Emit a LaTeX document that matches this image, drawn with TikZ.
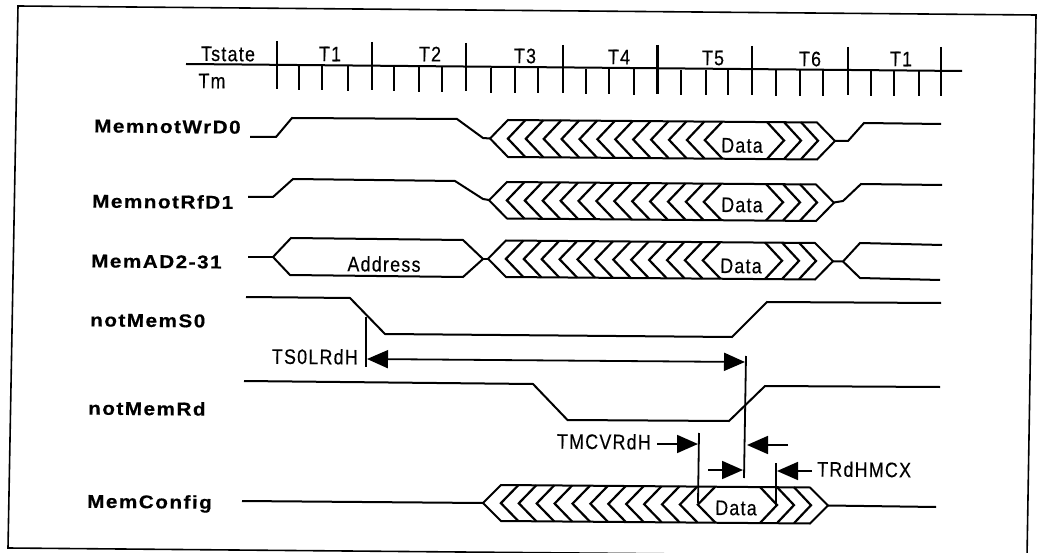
\documentclass[tikz,border=0pt]{standalone}
\usepackage{fontspec}
\usetikzlibrary{arrows.meta}
\newfontfamily\sigfont[FakeStretch=1.12,LetterSpace=8,FakeBold=0.4]{Liberation Sans Bold}
\newfontfamily\timefont[FakeStretch=0.85,LetterSpace=6,FakeBold=0.3]{Liberation Sans}
\tikzset{
  frameline/.style={line width=1.6pt,line join=miter},
  wave/.style={line width=2pt,line join=miter},
  chev/.style={line width=2.2pt,line join=miter},
  tickline/.style={line width=2.1pt},
  meas/.style={line width=1.8pt},
  arrowed/.style={line width=1.8pt,-{Triangle[length=21pt,width=18pt]}},
  sig/.style={inner sep=0pt,anchor=west,rotate=-0.5,font=\sigfont\fontsize{18.5}{18.5}\selectfont},
  timelab/.style={inner sep=0pt,rotate=-0.5,font=\timefont\fontsize{21}{21}\selectfont},
}
% bus row: left tip x, top y, bottom y
\newcommand{\busrow}[3]{%
  \pgfmathsetmacro{\yT}{#2}\pgfmathsetmacro{\yB}{#3}%
  \pgfmathsetmacro{\yM}{(#2+#3)/2}%
  \draw[wave] (#1,\yM) -- (#1+18,\yT) -- (#1+327,\yT+2.5) -- (#1+345,\yM+2.5) -- (#1+327,\yB+2.5) -- (#1+18,\yB) -- cycle;
  \foreach \i in {1,...,12}{%
    \pgfmathsetmacro{\tx}{#1+17.9*\i}%
    \pgfmathsetmacro{\dy}{0.0075*17.9*\i}%
    \draw[chev] (\tx+17.5,\yT+\dy) -- (\tx,\yM+\dy) -- (\tx+17.5,\yB+\dy);
  }%
  \foreach \j in {0,1,2}{%
    \pgfmathsetmacro{\tx}{#1+294+17*\j}%
    \pgfmathsetmacro{\dy}{2+0.1*\j}%
    \draw[chev] (\tx-17,\yT+\dy) -- (\tx,\yM+\dy) -- (\tx-17,\yB+\dy);
  }%
}
\begin{document}
\begin{tikzpicture}[x=1pt,y=-1pt]
\useasboundingbox (0,0) rectangle (1038,553);
\fill[white] (0,0) rectangle (1038,553);
% frame
\begin{scope}
\clip (0,0) rectangle (1038,553);
\draw[frameline] (18,6) -- (1036,15) -- (1027,557) -- (8,548) -- cycle;
\end{scope}
% header
\draw[wave] (186,64) -- (962,71);
\foreach \x/\a/\b in {277/41/89,372/42/90,466/43/91,563/45/93,657.5/45/94,752/46/95,848/47/95,941/47/96}
  \draw[tickline] (\x,\a) -- (\x,\b);
\foreach \x/\a/\b in {299/65/90,322/65/90,348/65/91,394/66/91,419/66/92,442/66/92,491/68/93,515/68/93,538/68/93,586/69/94,609/69/94,634/69/95,681/70/95,706/70/95,728/70/95,776/70/96,800/70/96,823/70/96,871/71/96,894/71/96,919/71/96}
  \draw[tickline] (\x,\a) -- (\x,\b);
\node[timelab] (tstate) at (228,54) {Tstate};
\node[timelab] (tm) at (212,81) {Tm};
\node[timelab] (ta) at (330,54) {T1};
\node[timelab] (tb) at (430,54) {T2};
\node[timelab] (tc) at (525,56) {T3};
\node[timelab] (td) at (619,57) {T4};
\node[timelab] (te) at (713,58) {T5};
\node[timelab] (tf) at (810,59) {T6};
\node[timelab] (tg) at (901,59) {T1};
% signal names
\node[sig] (s1) at (94,126) {MemnotWrD0};
\node[sig] (s2) at (92,201) {MemnotRfD1};
\node[sig] (s3) at (91,261) {MemAD2-31};
\node[sig] (s4) at (90,320) {notMemS0};
\node[sig] (s5) at (88,408) {notMemRd};
\node[sig] (s6) at (87,503) {MemConfig};
% MemnotWrD0
\draw[wave] (250,137) -- (276,137) -- (292,118) -- (457,119) -- (483,138) -- (490,138.5);
\busrow{490}{120}{157}
\draw[wave] (835,141) -- (848,141) -- (864,123) -- (941,124);
\node[timelab] (d1) at (742,145.5) {Data};
% MemnotRfD1
\draw[wave] (248,197) -- (273,197) -- (293,179) -- (455,181) -- (483,199) -- (489,200);
\busrow{489}{182}{218.5}
\draw[wave] (834,202.5) -- (843,201) -- (861,184) -- (942,185);
\node[timelab] (d2) at (742,205) {Data};
% MemAD2-31
\draw[wave] (248,257) -- (273,257);
\draw[wave] (273,257) -- (291,238) -- (463,240) -- (483,259) -- (463,277) -- (290,275) -- cycle;
\draw[wave] (483,259) -- (488,259);
\busrow{488}{240.5}{277}
\draw[wave] (833,261.5) -- (843,261.5) -- (860,243) -- (942,245);
\draw[wave] (843,261.5) -- (860,278) -- (940,280);
\node[timelab] (addr) at (384,264) {Address};
\node[timelab] (d3) at (741,266) {Data};
% notMemS0
\draw[wave] (246,297) -- (350,298) -- (385,334) -- (732,337) -- (767,302) -- (941,303);
% notMemRd
\draw[wave] (244,381) -- (533,384) -- (567.5,420) -- (729,421) -- (765,386) -- (940,387);
% MemConfig
\draw[wave] (242,501) -- (483,503);
\busrow{483}{485}{521}
\draw[wave] (828,505.5) -- (936,507);
\node[timelab] (d6) at (736,508) {Data};
% timing measures
\coordinate (vAa) at (366,317); \coordinate (vAb) at (366,367);
\coordinate (vBa) at (746,356); \coordinate (vBb) at (744,478);
\coordinate (vCa) at (699,433); \coordinate (vCb) at (698,503);
\coordinate (vDa) at (776,463); \coordinate (vDb) at (776,507);
\draw[meas] (vAa) -- (vAb);
\draw[meas] (vBa) -- (vBb);
\draw[meas] (vCa) -- (vCb);
\draw[meas] (vDa) -- (vDb);
\coordinate (aAl) at (367,359); \coordinate (aAr) at (745,362);
\draw[meas,{Triangle[length=21pt,width=18pt]}-{Triangle[length=21pt,width=18pt]}] (aAl) -- (aAr);
\node[timelab,anchor=east] (l1) at (358,357) {TS0LRdH};
\node[timelab,anchor=east] (l2) at (651,442) {TMCVRdH};
\node[timelab,anchor=west] (l3) at (817,469) {TRdHMCX};
\coordinate (bA) at (657,444); \coordinate (bB) at (698,444);
\draw[arrowed] (bA) -- (bB);
\coordinate (cA) at (788,445); \coordinate (cB) at (747,445);
\draw[arrowed] (cA) -- (cB);
\coordinate (eA) at (708,470); \coordinate (eB) at (743,470);
\draw[arrowed] (eA) -- (eB);
\coordinate (fA) at (812,471); \coordinate (fB) at (777,471);
\draw[arrowed] (fA) -- (fB);
\end{tikzpicture}
\end{document}
